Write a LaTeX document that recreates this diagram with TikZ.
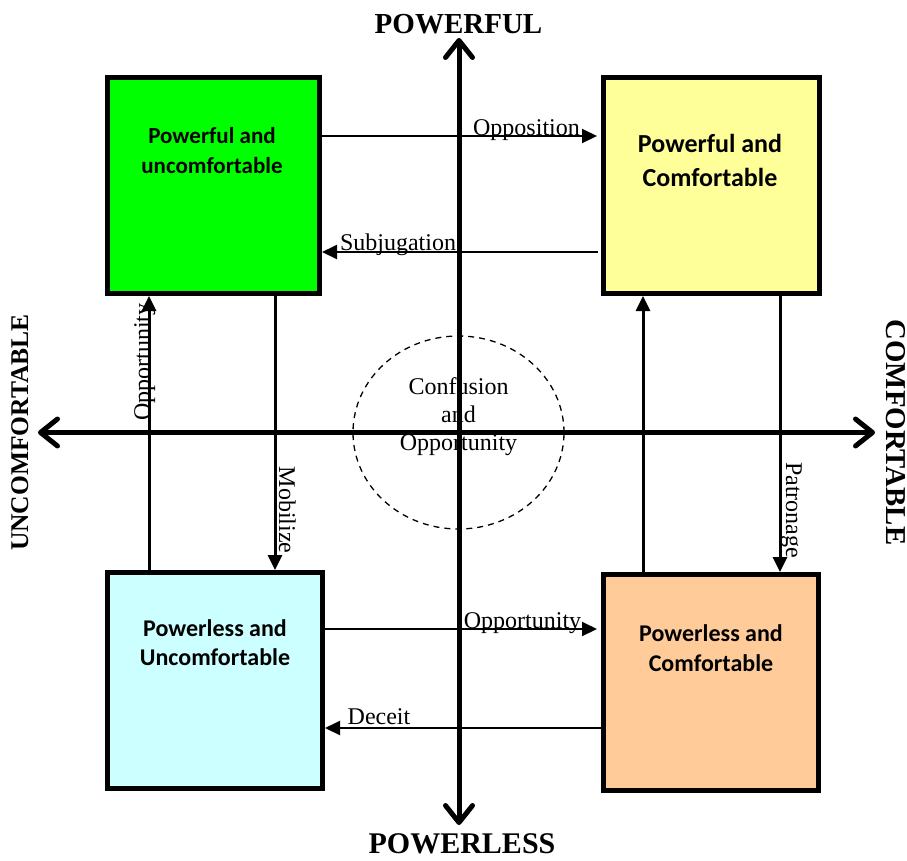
\documentclass[tikz,border=0pt]{standalone}
\usepackage{fontspec}
\setmainfont{Liberation Serif}
\newfontfamily\boxfont{Carlito}
\usetikzlibrary{arrows.meta,shapes.geometric}
\definecolor{gbox}{RGB}{0,255,0}
\definecolor{ybox}{RGB}{255,255,153}
\definecolor{cbox}{RGB}{204,255,255}
\definecolor{obox}{RGB}{255,204,153}
\begin{document}
\begin{tikzpicture}[x=1pt,y=-1pt,
  quad/.style={draw=black, line width=5pt, inner sep=0pt, minimum height=216pt},
  boxtext/.style={align=center, inner sep=0pt},
  conn/.style={line width=2pt, -{Triangle[length=15pt,width=14pt]}},
  vconn/.style={line width=3pt, -{Triangle[length=15pt,width=14pt]}},
  lab/.style={font=\fontsize{24}{28}\selectfont, inner sep=0pt},
  axis/.style={line width=5pt, {Straight Barb[length=17pt,width=27pt,round]}-{Straight Barb[length=17pt,width=27pt,round]}},
  axislab/.style={inner sep=0pt}]
\useasboundingbox (0,0) rectangle (907,860);

% quadrant boxes
\node[quad, fill=gbox, minimum width=212pt] (pu) at (213.5,185.5) {};
\node[quad, fill=ybox, minimum width=216pt] (pc) at (711.5,185.5) {};
\node[quad, fill=cbox, minimum width=215pt] (lu) at (215,680.5) {};
\node[quad, fill=obox, minimum width=215pt] (lc) at (711,682.5) {};

\node[boxtext, font=\boxfont\bfseries\fontsize{23}{30}\selectfont] (put) at (212,151) {Powerful and\\uncomfortable};
\node[boxtext, font=\boxfont\bfseries\fontsize{26}{34}\selectfont] (pct) at (710,160) {Powerful and\\Comfortable};
\node[boxtext, font=\boxfont\bfseries\fontsize{24}{29}\selectfont] (lut) at (215,642.5) {Powerless and\\Uncomfortable};
\node[boxtext, font=\boxfont\bfseries\fontsize{24}{30}\selectfont] (lct) at (711,648) {Powerless and\\Comfortable};

% connectors
\draw[conn, shorten >=4pt] (pu.east |- 0,136) -- (pc.west |- 0,136);
\draw[conn, shorten <=3pt] (pc.west |- 0,252) -- (pu.east |- 0,252);
\draw[conn, shorten >=4pt] (lu.east |- 0,629) -- (lc.west |- 0,629);
\draw[conn] (lc.west |- 0,728) -- (lu.east |- 0,728);
\draw[vconn] (lu.north -| 149,0) -- (pu.south -| 149,0);
\draw[vconn] (pu.south -| 275,0) -- (lu.north -| 275,0);
\draw[vconn] (lc.north -| 643,0) -- (pc.south -| 643,0);
\draw[vconn] (pc.south -| 780,0) -- (lc.north -| 780,0);

% connector labels
\node[lab, anchor=base] (oppl) at (526.5,135) {Opposition};
\node[lab, anchor=base] (subl) at (398,250) {Subjugation};
\node[lab, anchor=base, rotate=90] (opl) at (150,362) {Opportunity};
\node[lab, anchor=base, rotate=-90] (mobl) at (279,510) {Mobilize};
\node[lab, anchor=base, rotate=-90] (patl) at (786,510) {Patronage};
\node[lab, anchor=base] (op2l) at (522.5,628) {Opportunity};
\node[lab, anchor=base] (decl) at (379,724) {Deceit};

% central zone
\node[ellipse, draw, line width=1.3pt, dash pattern=on 6pt off 5pt, minimum width=211pt, minimum height=193pt, inner sep=0pt] (zone) at (458.5,432.5) {};
\node[lab, align=center] (zonet) at (458.5,417) {Confusion\\and\\Opportunity};

% axes
\coordinate (atop) at (459,38);
\coordinate (abot) at (459,825);
\coordinate (aleft) at (38,432.5);
\coordinate (aright) at (875,432.5);
\draw[axis] (abot) -- (atop);
\draw[axis] (aleft) -- (aright);

\node[axislab, anchor=base, font=\bfseries\fontsize{29}{32}\selectfont] (top) at (458.5,33) {POWERFUL};
\node[axislab, anchor=base, font=\bfseries\fontsize{30}{33}\selectfont] (bot) at (462,853) {POWERLESS};
\node[axislab, anchor=base, rotate=90, font=\bfseries\fontsize{25.5}{28}\selectfont] (lft) at (28,432.5) {UNCOMFORTABLE};
\node[axislab, anchor=base, rotate=-90, font=\bfseries\fontsize{28.8}{31}\selectfont] (rgt) at (886,432.5) {COMFORTABLE};
\end{tikzpicture}
\end{document}
